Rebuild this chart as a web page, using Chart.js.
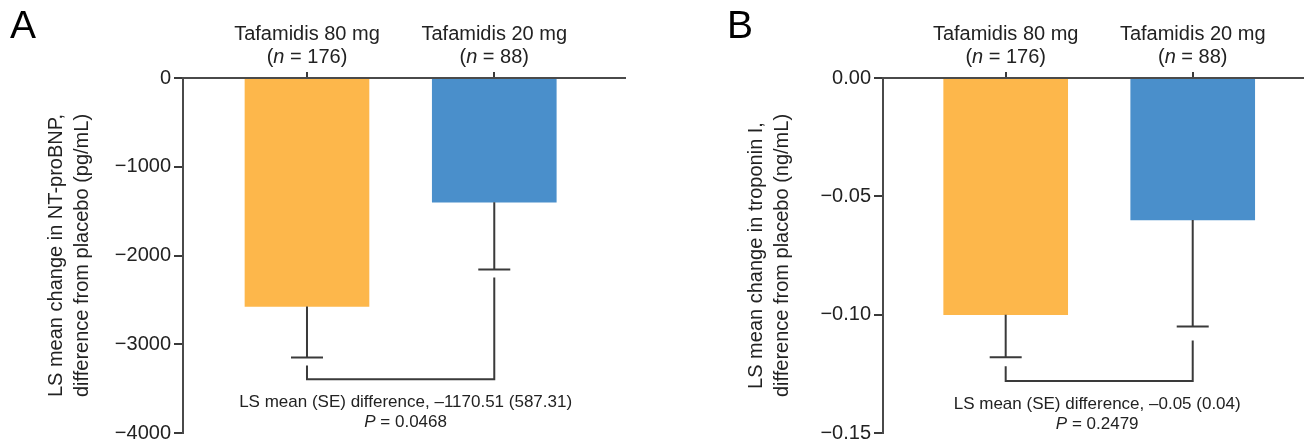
<!DOCTYPE html>
<html>
<head>
<meta charset="utf-8">
<script src="https://cdn.jsdelivr.net/npm/chart.js@4.4.1/dist/chart.umd.min.js"></script>
<style>
  html, body { margin: 0; padding: 0; background: #fff; }
  body { width: 1304px; height: 439px; position: relative; overflow: hidden; }
  canvas { position: absolute; top: 0; }
  #chartA { left: 0; }
  #chartB { left: 700px; }
</style>
</head>
<body>
<canvas id="chartA" width="640" height="439"></canvas>
<canvas id="chartB" width="604" height="439"></canvas>
<script>
// groups (same in both panels)
var groups = ['Tafamidis 80 mg', 'Tafamidis 20 mg'];
var groupN = [176, 88];
var groupX = [1, 2];
var barColors = ['#FDB74B', '#4A8FCB'];

// panel A : NT-proBNP (pg/mL)
var ntMean = [-2575, -1400];
var ntSE = [575, 757];
var ntBracket = -3395;
var ntTicks = { min: -4000, max: 0, step: 1000 };
var ntTitle = ['LS mean change in NT-proBNP,', 'difference from placebo (pg/mL)'];
var ntDiff = 'LS mean (SE) difference, \u20131170.51 (587.31)';
var ntP = '0.0468';

// panel B : troponin I (ng/mL)
var tropMean = [-0.100, -0.060];
var tropSE = [0.018, 0.045];
var tropBracket = -0.128;
var tropTicks = { min: -0.15, max: 0, step: 0.05 };
var tropTitle = ['LS mean change in troponin I,', 'difference from placebo (ng/mL)'];
var tropDiff = 'LS mean (SE) difference, \u20130.05 (0.04)';
var tropP = '0.2479';

var FAM = '"Liberation Sans", Arial, Helvetica, sans-serif';
var INK = '#222';
var LINE = '#3a3a3a';

function drawRuns(ctx, runs, cx, y) {
  var w = 0;
  runs.forEach(function (r) { ctx.font = r.font; r.w = ctx.measureText(r.text).width; w += r.w; });
  var x = cx - w / 2;
  runs.forEach(function (r) { ctx.font = r.font; ctx.fillText(r.text, x, y); x += r.w; });
}

var panelDecor = {
  id: 'panelDecor',
  afterDatasetsDraw: function (chart, args, o) {
    var ctx = chart.ctx, xs = chart.scales.x, ys = chart.scales.y;
    ctx.save();
    ctx.strokeStyle = LINE;
    ctx.lineWidth = 2;
    ctx.lineCap = 'butt';

    // error bars (lower half only)
    var caps = [];
    o.mean.forEach(function (m, i) {
      var x = xs.getPixelForValue(groupX[i]);
      var y0 = ys.getPixelForValue(m);
      var y1 = ys.getPixelForValue(m - o.se[i]);
      ctx.beginPath();
      ctx.moveTo(x, y0); ctx.lineTo(x, y1);
      ctx.moveTo(x - 16, y1); ctx.lineTo(x + 16, y1);
      ctx.stroke();
      caps.push({ x: x, y: y1 });
    });

    // comparison bracket
    var yb = ys.getPixelForValue(o.bracket);
    ctx.beginPath();
    ctx.moveTo(caps[0].x, caps[0].y + o.gap[0]);
    ctx.lineTo(caps[0].x, yb);
    ctx.lineTo(caps[1].x, yb);
    ctx.lineTo(caps[1].x, caps[1].y + o.gap[1]);
    ctx.stroke();

    // annotation under the bracket
    var mid = (caps[0].x + caps[1].x) / 2 + o.textShift;
    ctx.fillStyle = INK;
    ctx.textBaseline = 'alphabetic';
    ctx.textAlign = 'left';
    drawRuns(ctx, [{ text: o.diff, font: '17px ' + FAM }], mid, yb + 28);
    drawRuns(ctx, [
      { text: 'P', font: 'italic 17px ' + FAM },
      { text: ' = ' + o.p, font: '17px ' + FAM }
    ], mid, yb + 48);

    // group headers
    groups.forEach(function (g, i) {
      var x = xs.getPixelForValue(groupX[i]);
      drawRuns(ctx, [{ text: g, font: '20px ' + FAM }], x, 40);
      drawRuns(ctx, [
        { text: '(', font: '20px ' + FAM },
        { text: 'n', font: 'italic 20px ' + FAM },
        { text: ' = ' + groupN[i] + ')', font: '20px ' + FAM }
      ], x, 63);
    });

    // panel letter
    ctx.fillStyle = '#000';
    ctx.font = '39px ' + FAM;
    ctx.fillText(o.letter, o.letterX, 38);
    ctx.restore();
  }
};

function makePanel(id, mean, se, bracket, ticks, title, diff, p, fmt, opt) {
  return new Chart(document.getElementById(id), {
    type: 'bar',
    data: {
      datasets: [{
        data: mean.map(function (v, i) { return { x: groupX[i], y: v }; }),
        backgroundColor: barColors,
        borderWidth: 0,
        barThickness: 124
      }]
    },
    options: {
      responsive: false,
      animation: false,
      devicePixelRatio: 1,
      layout: { padding: { left: 0, top: 0, right: opt.padRight, bottom: 6 } },
      plugins: {
        legend: { display: false },
        tooltip: { enabled: false },
        panelDecor: {
          mean: mean, se: se, bracket: bracket, diff: diff, p: p,
          gap: opt.gap, textShift: opt.textShift,
          letter: opt.letter, letterX: opt.letterX
        }
      },
      scales: {
        x: {
          type: 'linear',
          position: 'top',
          min: opt.xMin, max: opt.xMax,
          offset: false,
          afterBuildTicks: function (s) { s.ticks = groupX.map(function (v) { return { value: v }; }); },
          ticks: { display: false },
          grid: { offset: false, drawOnChartArea: false, tickLength: 6, color: LINE, lineWidth: 2 },
          border: { color: '#4a4a4a', width: 2, z: 1 },
          afterFit: function (s) { s.height = 78; s.paddingLeft = 0; s.paddingRight = 0; }
        },
        y: {
          min: ticks.min, max: ticks.max,
          ticks: {
            stepSize: ticks.step,
            color: INK,
            padding: 3,
            font: { family: FAM, size: 20 },
            callback: fmt
          },
          grid: { drawOnChartArea: false, tickLength: 9, color: LINE, lineWidth: 2 },
          border: { color: '#4a4a4a', width: 2, z: 1 },
          title: {
            display: true,
            text: title,
            color: INK,
            font: { family: FAM, size: 20, lineHeight: 1.3 },
            padding: { top: 43, bottom: 0 }
          },
          afterFit: function (s) { s.width = 183; s.paddingTop = 0; s.paddingBottom = 0; }
        }
      }
    },
    plugins: [panelDecor]
  });
}

makePanel('chartA', ntMean, ntSE, ntBracket, ntTicks, ntTitle, ntDiff, ntP,
  function (v) { return v === 0 ? '0' : '\u2212' + Math.abs(v); },
  { xMin: 0.338, xMax: 2.698, padRight: 15, gap: [8, 8], textShift: 5, letter: 'A', letterX: 10 });

makePanel('chartB', tropMean, tropSE, tropBracket, tropTicks, tropTitle, tropDiff, tropP,
  function (v) { return Math.abs(v) < 1e-9 ? '0.00' : '\u2212' + Math.abs(v).toFixed(2); },
  { xMin: 0.344, xMax: 2.595, padRight: 0, gap: [9, 14], textShift: -2, letter: 'B', letterX: 27 });
</script>
</body>
</html>
